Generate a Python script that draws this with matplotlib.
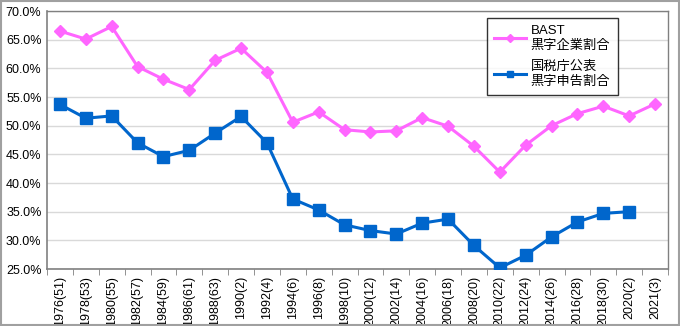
import numpy as np
import matplotlib
matplotlib.use("Agg")
from matplotlib import pyplot as plt
from matplotlib.ticker import FixedLocator, FuncFormatter

plt.rcParams['font.family'] = ['Liberation Sans', 'Noto Sans CJK JP', 'DejaVu Sans']

years = ['1976(51)', '1978(53)', '1980(55)', '1982(57)', '1984(59)', '1986(61)',
         '1988(63)', '1990(2)', '1992(4)', '1994(6)', '1996(8)', '1998(10)',
         '2000(12)', '2002(14)', '2004(16)', '2006(18)', '2008(20)', '2010(22)',
         '2012(24)', '2014(26)', '2016(28)', '2018(30)', '2020(2)', '2021(3)']

bast = [66.5, 65.1, 67.3, 60.3, 58.1, 56.3, 61.4, 63.5, 59.3, 50.6, 52.4, 49.3,
        48.9, 49.1, 51.4, 49.9, 46.4, 41.9, 46.6, 50.0, 52.1, 53.4, 51.7, 53.8]

kokuzei = [53.7, 51.3, 51.7, 47.0, 44.6, 45.7, 48.7, 51.6, 47.0, 37.2, 35.3, 32.7,
           31.7, 31.1, 33.0, 33.7, 29.1, 25.2, 27.4, 30.6, 33.2, 34.7, 35.0]

legend_bast = 'BAST\n黒字企業割合'
legend_koku = '国税庁公表\n黒字申告割合'

fig = plt.figure(figsize=(6.8, 3.26), dpi=100)
ax = fig.add_axes([47/680, 1-269/326, (668-47)/680, (269-11)/326])

x = np.arange(len(years))
ax.plot(x, bast, color='#ff66ff', lw=2.2, marker='D', ms=6.5, label=legend_bast, zorder=3)
ax.plot(x[:len(kokuzei)], kokuzei, color='#0066cc', lw=2.2, marker='s', ms=8, label=legend_koku, zorder=3)

ax.set_xlim(-0.5, len(years) - 0.5)
ax.set_ylim(25, 70)
ax.set_yticks(np.arange(25, 70.1, 5))
ax.yaxis.set_major_formatter(FuncFormatter(lambda v, p: '%.1f%%' % v))
ax.grid(axis='y', color='#d9d9d9', lw=1)
ax.set_axisbelow(True)

ax.set_xticks(x)
ax.set_xticklabels(years, rotation=90, fontsize=9)
ax.tick_params(axis='x', length=0, pad=5)
ax.xaxis.set_minor_locator(FixedLocator(np.arange(-0.5, len(years), 1)))
ax.tick_params(axis='x', which='minor', length=4, color='#808080')
ax.tick_params(axis='y', length=0, labelsize=9, pad=4)

for s in ax.spines.values():
    s.set_color('#808080')
    s.set_linewidth(1)
ax.spines['left'].set_linewidth(1.2)
ax.spines['bottom'].set_linewidth(1.2)

leg = ax.legend(loc='upper left', bbox_to_anchor=((480-47)/621, 1.0), fontsize=9.5,
                frameon=True, fancybox=False, edgecolor='black', handlelength=2.4,
                handletextpad=0.4, labelspacing=0.7, borderpad=0.55, markerscale=0.6)
leg.get_frame().set_linewidth(1)
for t in leg.get_texts():
    t.set_multialignment('left')
    t.set_linespacing(1.3)

fig.patches.append(plt.Rectangle((0.002, 0.003), 0.996, 0.994, transform=fig.transFigure,
                                 fill=False, edgecolor='#a0a0a0', lw=1.5))

fig.savefig('out.png', dpi=100)
